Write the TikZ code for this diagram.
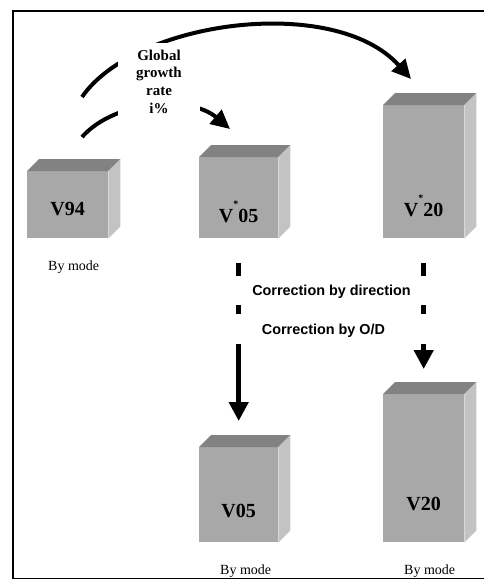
\documentclass[tikz,border=0pt]{standalone}
\usepackage{fontspec}
\setmainfont{Liberation Serif}
\newfontfamily\arialfont{Liberation Sans}
\usetikzlibrary{arrows.meta,positioning}

\definecolor{frontgray}{RGB}{168,168,168}
\definecolor{topgray}{RGB}{130,130,130}
\definecolor{sidegray}{RGB}{195,195,195}

\tikzset{
  front/.style={fill=frontgray, inner sep=0pt, anchor=north west},
  topface/.style={fill=topgray},
  sideface/.style={fill=sidegray},
  boxlabel/.style={font=\bfseries\fontsize{20}{20}\selectfont, inner sep=0pt, anchor=base},
  modelabel/.style={font=\fontsize{14}{14}\selectfont, inner sep=0pt},
  corrlabel/.style={font=\arialfont\bfseries\fontsize{14.4}{14.4}\selectfont, inner sep=0pt},
  ratelabel/.style={fill=white, inner sep=0pt, minimum width=82pt, minimum height=77pt,
    align=center, font=\bfseries\fontsize{15}{17.7}\selectfont},
  growth/.style={line width=4pt, -{Triangle[length=19pt,width=18pt]}},
  corr/.style={line width=4.5pt, dash pattern=on 13pt off 29pt on 9pt off 30pt on 300pt,
    -{Triangle[length=19pt,width=19pt]}}
}

\begin{document}
\begin{tikzpicture}[x=1pt,y=-1pt]
  \useasboundingbox (0,0) rectangle (484,581);
  \draw[line width=1.5pt] (484,11) -- (13,11) -- (13,578.5) -- (484,578.5);

  % boxes
  \node[front, minimum width=81pt, minimum height=67pt] (v94) at (27,171) {};
  \node[front, minimum width=79pt, minimum height=81pt] (v05s) at (199,157) {};
  \node[front, minimum width=81pt, minimum height=133pt] (v20s) at (383,105) {};
  \node[front, minimum width=79pt, minimum height=95pt] (v05) at (199,447) {};
  \node[front, minimum width=81pt, minimum height=148pt] (v20) at (383,394) {};
  \foreach \b in {v94,v05s,v20s,v05,v20} {
    \fill[topface] (\b.north west) -- ++(12,-12) -- ([shift={(12,-12)}]\b.north east)
      -- (\b.north east) -- cycle;
    \fill[sideface] (\b.north east) -- ++(12,-12) -- ([shift={(12,-12)}]\b.south east)
      -- (\b.south east) -- cycle;
  }

  \node[boxlabel] (v94txt) at ([yshift=23pt]v94.south) {V94};
  \node[boxlabel] (v05stxt) at ([yshift=16pt]v05s.south)
    {V\raisebox{14.5pt}{\fontsize{10}{10}\selectfont *}05};
  \node[boxlabel] (v20stxt) at ([yshift=22pt]v20s.south)
    {V\raisebox{14.5pt}{\fontsize{10}{10}\selectfont *}20};
  \node[boxlabel] (v05txt) at ([yshift=25pt]v05.south) {V05};
  \node[boxlabel] (v20txt) at ([yshift=32pt]v20.south) {V20};

  \node[modelabel, below=22pt of v94.south, xshift=6pt] (v94mode) {By mode};
  \node[modelabel, below=22pt of v05.south, xshift=7pt] (v05mode) {By mode};
  \node[modelabel, below=22pt of v20.south, xshift=6pt] (v20mode) {By mode};

  % growth arrows
  \coordinate (up0) at (82,97);
  \coordinate (up1) at (411,79);
  \coordinate (lo0) at (82,137);
  \coordinate (lo1) at (230,129);
  \draw[growth] (up0) .. controls (135,20) and (335,-6) .. (up1);
  \draw[growth] (lo0) .. controls (115,100) and (190,95) .. (lo1);
  \node[ratelabel] (rate) at (159,81.5) {Global\\growth\\rate\\i\%};

  % corrections
  \draw[corr] ([yshift=-25pt]v05s.south) -- ([yshift=26pt]v05.north);
  \draw[corr] ([yshift=-25pt]v20s.south) -- ([yshift=25pt]v20.north);
  \node[corrlabel] (dirtxt) at (331.5,292) {Correction by direction};
  \node[corrlabel] (odtxt) at (323.5,331) {Correction by O/D};
\end{tikzpicture}
\end{document}
